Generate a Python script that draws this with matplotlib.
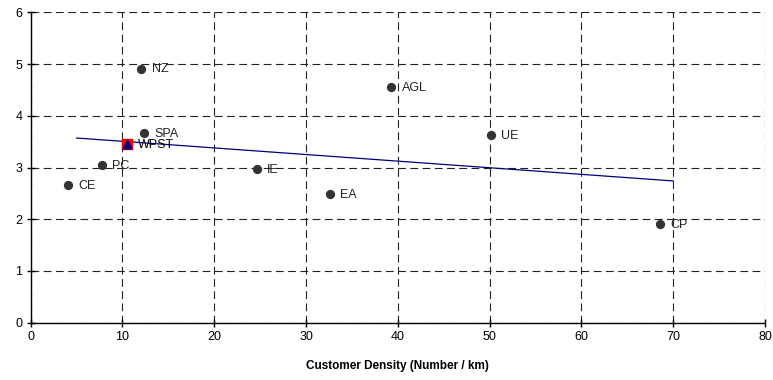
import matplotlib
matplotlib.use("Agg")
import matplotlib.pyplot as plt

plt.rcParams['font.family'] = ['Liberation Sans', 'DejaVu Sans']

labels = ["NZ", "SPA", "PC", "CE", "IE", "EA", "AGL", "UE", "CP"]
density = [12.06, 12.36, 7.77, 4.07, 24.6, 32.6, 39.3, 50.1, 68.6]
values = [4.91, 3.66, 3.04, 2.66, 2.97, 2.49, 4.55, 3.62, 1.90]

wpst_label = "WPST"
wpst_x = [10.5]
wpst_y = [3.45]

trend_x = [5, 70]
trend_y = [3.57, 2.74]

x_ticks = [0, 10, 20, 30, 40, 50, 60, 70, 80]
y_ticks = [0, 1, 2, 3, 4, 5, 6]

fig = plt.figure(figsize=(7.73, 3.80), dpi=100)
ax = fig.add_axes([0.0397, 0.1508, 0.9500, 0.8168])

ax.set_xlim(0, 80)
ax.set_ylim(0, 6)
ax.set_xticks(x_ticks)
ax.set_yticks(y_ticks)

ax.grid(True, color='#222222', linestyle=(0, (7, 4)), linewidth=0.8)
ax.set_axisbelow(True)

for s in ['top', 'right']:
    ax.spines[s].set_visible(False)
for s in ['left', 'bottom']:
    ax.spines[s].set_color('black')
    ax.spines[s].set_linewidth(1.0)

ax.tick_params(direction='inout', length=6, width=1, labelsize=9, pad=3)

ax.plot(trend_x, trend_y, color='#000080', linewidth=0.9, zorder=2)

ax.scatter(density, values, s=32, color='#333333', zorder=3)
for lab, x, y in zip(labels, density, values):
    ax.annotate(lab, (x, y), xytext=(7.5, -0.5), textcoords='offset points',
                fontsize=9, color='#222222', va='center')

ax.scatter(wpst_x, wpst_y, marker='s', s=60, color='#ff0000', zorder=4)
ax.scatter(wpst_x, wpst_y, marker='^', s=40, color='#000080', zorder=5)
ax.annotate(wpst_label, (wpst_x[0], wpst_y[0]), xytext=(7.5, -0.5),
            textcoords='offset points', fontsize=9, color='black', va='center')

ax.set_xlabel("Customer Density (Number / km)", fontsize=8.5, fontweight='bold', labelpad=12)

fig.savefig("out.png", dpi=100)
